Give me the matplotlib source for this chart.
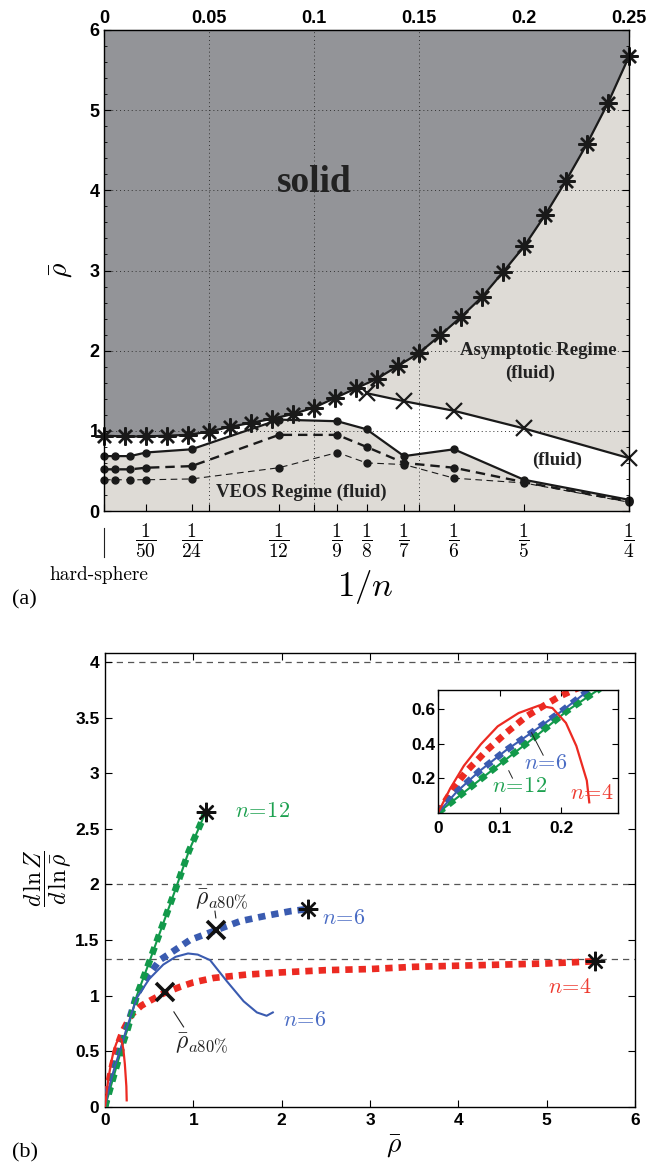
import numpy as np
import matplotlib
matplotlib.use('Agg')
import matplotlib.pyplot as plt
from matplotlib.ticker import MultipleLocator

plt.rcParams['mathtext.fontset'] = 'cm'
plt.rcParams['font.family'] = ['Liberation Sans', 'DejaVu Sans']

# ---------------- panel (a) data ----------------
inv_n_star = [0.00, 0.01, 0.02, 0.03, 0.04, 0.05, 0.06, 0.07, 0.08, 0.09, 0.10, 0.11, 0.12,
              0.13, 0.14, 0.15, 0.16, 0.17, 0.18, 0.19, 0.20, 0.21, 0.22, 0.23, 0.24, 0.25]
rho_star = [0.94, 0.93, 0.93, 0.94, 0.95, 0.99, 1.05, 1.10, 1.15, 1.21, 1.29, 1.41, 1.53,
            1.65, 1.81, 1.97, 2.19, 2.42, 2.67, 2.98, 3.30, 3.69, 4.12, 4.58, 5.09, 5.67]
inv_n_cross = [1/8, 1/7, 1/6, 1/5, 1/4]
rho_cross = [1.47, 1.37, 1.25, 1.03, 0.66]
inv_n_dots = [0.0, 1/200, 1/80, 1/50, 1/24, 1/12, 1/9, 1/8, 1/7, 1/6, 1/5, 1/4]
rho_dots_solid = [0.685, 0.685, 0.685, 0.73, 0.77, 1.14, 1.12, 1.02, 0.685, 0.77, 0.39, 0.14]
rho_dots_dash = [0.52, 0.52, 0.52, 0.54, 0.56, 0.95, 0.95, 0.80, 0.60, 0.54, 0.36, 0.12]
rho_dots_thin = [0.39, 0.39, 0.39, 0.39, 0.40, 0.54, 0.73, 0.60, 0.58, 0.41, 0.35, 0.11]
top_ticks = [0, 0.05, 0.1, 0.15, 0.2, 0.25]
top_labels = ['0', '0.05', '0.1', '0.15', '0.2', '0.25']
frac_ticks = [1/50, 1/24, 1/12, 1/9, 1/8, 1/7, 1/6, 1/5, 1/4]
frac_labels = [r'$\dfrac{1}{50}$', r'$\dfrac{1}{24}$', r'$\dfrac{1}{12}$', r'$\dfrac{1}{9}$',
               r'$\dfrac{1}{8}$', r'$\dfrac{1}{7}$', r'$\dfrac{1}{6}$', r'$\dfrac{1}{5}$',
               r'$\dfrac{1}{4}$']

# ---------------- panel (b) data ----------------
rho12 = [0, 0.05, 0.1, 0.16, 0.21, 0.26, 0.36, 0.5, 0.65, 0.8, 0.95, 1.14]
z12 = [0, 0.14, 0.28, 0.445, 0.59, 0.71, 1.0, 1.3, 1.63, 1.96, 2.3, 2.65]

rho6 = [0, 0.03, 0.067, 0.11, 0.152, 0.2, 0.242, 0.36, 0.47, 0.62, 0.81, 0.96, 1.26, 1.53, 1.83,
        2.1, 2.3]
z6 = [0, 0.12, 0.24, 0.36, 0.463, 0.585, 0.70, 1.01, 1.16, 1.32, 1.42, 1.50, 1.59, 1.67, 1.72,
      1.76, 1.78]
rho6_v = [0, 0.03, 0.067, 0.11, 0.152, 0.2, 0.242, 0.36, 0.5, 0.66, 0.8, 0.94, 1.05, 1.19, 1.38,
          1.57, 1.72, 1.83, 1.90]
z6_v = [0, 0.12, 0.24, 0.36, 0.463, 0.585, 0.70, 0.98, 1.15, 1.28, 1.35, 1.38, 1.37, 1.32, 1.13,
        0.95, 0.85, 0.82, 0.85]

rho4 = [0, 0.011, 0.028, 0.047, 0.081, 0.111, 0.144, 0.17, 0.197, 0.22, 0.3, 0.41, 0.52, 0.66,
        0.85, 1.0, 1.23, 1.6, 2.0, 2.5, 3.0, 3.5, 4.0, 4.5, 5.0, 5.55]
z4 = [0, 0.063, 0.158, 0.243, 0.367, 0.463, 0.558, 0.615, 0.672, 0.71, 0.83, 0.91, 0.96, 1.02,
      1.08, 1.12, 1.16, 1.19, 1.21, 1.23, 1.24, 1.26, 1.27, 1.28, 1.29, 1.31]
rho4_v = [0, 0.0195, 0.042, 0.0695, 0.097, 0.131, 0.164, 0.186, 0.208, 0.225, 0.242, 0.246]
z4_v = [0, 0.139, 0.272, 0.396, 0.50, 0.577, 0.62, 0.606, 0.52, 0.386, 0.186, 0.06]

rho_a80 = [0.68, 1.26]
z_a80 = [1.03, 1.59]
asymptotes = [4.0, 2.0, 4/3]
b_yticks = [0, 0.5, 1, 1.5, 2, 2.5, 3, 3.5, 4]
b_ylabels = ['0', '0.5', '1', '1.5', '2', '2.5', '3', '3.5', '4']

RED = '#ec2a22'
BLUE = '#3a5bb0'
GREEN = '#12994a'
RED_T = '#ee3b30'
BLUE_T = '#4a6cc4'
GREEN_T = '#1da150'
DARK = '#939498'
LIGHT = '#dedbd6'

fig = plt.figure(figsize=(6.5, 11.67), dpi=100)

# ================= panel (a) =================
ax = fig.add_axes([0.160, 0.5621, 0.8077, 0.4122])
ax.set_xlim(0, 0.25)
ax.set_ylim(0, 6)
ax.set_facecolor(LIGHT)

ax.fill_between(inv_n_star, rho_star, 6, color=DARK, lw=0, zorder=1)
xf = np.linspace(0, 0.25, 2001)
top = np.interp(xf, inv_n_star, rho_star)
xline = np.interp(xf, inv_n_cross, rho_cross)
top = np.where(xf >= inv_n_cross[0], np.minimum(top, xline), top)
bot = np.interp(xf, inv_n_dots, rho_dots_solid)
ax.fill_between(xf, bot, top, where=top > bot, color='white', lw=0, zorder=1.2)

ax.plot(inv_n_star, rho_star, color='#1a1a1a', lw=1.6, marker=(8, 2, 0), ms=13, mew=1.7, zorder=4,
        clip_on=False)
ax.plot(inv_n_cross, rho_cross, color='#1a1a1a', lw=1.6, marker='x', ms=11, mew=1.6, zorder=4,
        clip_on=False)
ax.plot(inv_n_dots, rho_dots_solid, color='#1a1a1a', lw=1.6, marker='o', ms=5, zorder=4, clip_on=False)
ax.plot(inv_n_dots, rho_dots_dash, color='#1a1a1a', lw=1.7, dashes=(4, 2.5), marker='o', ms=5,
        zorder=4, clip_on=False)
ax.plot(inv_n_dots, rho_dots_thin, color='#1a1a1a', lw=0.8, dashes=(6, 4), marker='o', ms=5,
        zorder=4, clip_on=False)

ax.set_axisbelow(False)
ax.set_yticks(range(0, 7))
ax.set_yticklabels([str(v) for v in range(0, 7)], fontweight='bold', fontsize=13)
ax.yaxis.set_minor_locator(MultipleLocator(0.2))
ax.set_xticks([0] + frac_ticks)
ax.set_xticklabels([''] + frac_labels, fontsize=14)
ax.set_xticks([0.05, 0.1, 0.15, 0.2], minor=True)
ax.tick_params(axis='x', which='both', direction='in', length=5, width=0.8, pad=8,
               top=False, bottom=True)
ax.tick_params(axis='y', which='major', direction='in', length=5, width=0.8, left=True,
               right=True, pad=3)
ax.tick_params(axis='y', which='minor', direction='in', length=2.5, width=0.6, left=True,
               right=True)
ax.grid(True, which='major', axis='y', ls=(0, (1, 3)), color='#333333', lw=0.7, zorder=2.5)
ax.grid(True, which='minor', axis='x', ls=(0, (1, 3)), color='#333333', lw=0.7, zorder=2.5)
for s in ax.spines.values():
    s.set_linewidth(1.0)
    s.set_zorder(5)

sec = ax.secondary_xaxis('top')
sec.set_xticks(top_ticks)
sec.set_xticklabels(top_labels, fontweight='bold', fontsize=13)
sec.tick_params(direction='in', length=5, width=0.8, pad=2)

ax.plot([0, 0], [-0.035, -0.095], transform=ax.get_xaxis_transform(), clip_on=False,
        color='#222222', lw=0.8)

tf = dict(family='Liberation Serif', fontweight='bold', color='#222222')
ax.text(0.100, 4.1, 'solid', fontsize=27, ha='center', va='center', zorder=6, **tf)
ax.text(0.207, 2.0, 'Asymptotic Regime', fontsize=13.5, ha='center', va='center', zorder=6, **tf)
ax.text(0.203, 1.72, '(fluid)', fontsize=13.5, ha='center', va='center', zorder=6, **tf)
ax.text(0.216, 0.635, '(fluid)', fontsize=13.5, ha='center', va='center', zorder=6, **tf)
ax.text(0.094, 0.235, 'VEOS Regime (fluid)', fontsize=13.5, ha='center', va='center', zorder=6, **tf)

fig.text(0.096, 0.769, r'$\bar{\rho}$', fontsize=20, rotation=90, ha='center', va='center')
fig.text(0.5615, 0.497, r'$1/n$', fontsize=25, ha='center', va='center')
fig.text(0.152, 0.507, 'hard-sphere', family='cmr10', fontsize=14, ha='center', va='center')
fig.text(0.037, 0.486, '(a)', family='Liberation Serif', fontsize=16, ha='center', va='center')

# ================= panel (b) =================
bx = fig.add_axes([0.1615, 0.0514, 0.8154, 0.389])
bx.set_xlim(0, 6)
bx.set_ylim(0, 4.08)
for h in asymptotes:
    bx.axhline(h, color='#555555', lw=0.9, dashes=(5, 4), zorder=1)

thick = dict(lw=4.8, dashes=(1.1, 0.9), dash_capstyle='butt', solid_capstyle='butt')


def draw_curves(a, zt=3):
    a.plot(rho4, z4, color=RED, zorder=zt, **thick)
    a.plot(rho6, z6, color=BLUE, zorder=zt, **thick)
    a.plot(rho12, z12, color=GREEN, zorder=zt, **thick)
    a.plot(rho12, z12, color=GREEN, lw=1.5, zorder=zt + 1)
    a.plot(rho6_v, z6_v, color=BLUE, lw=1.5, zorder=zt + 1)
    a.plot(rho4_v, z4_v, color=RED, lw=1.6, zorder=zt + 1)


draw_curves(bx)
star_kw = dict(marker=(8, 2, 0), ms=14, mew=1.7, color='#111111', ls='none', zorder=6)
bx.plot(rho12[-1], z12[-1], **star_kw)
bx.plot(rho6[-1], z6[-1], **star_kw)
bx.plot(rho4[-1], z4[-1], **star_kw)
bx.plot(rho_a80, z_a80, marker='x', ms=13, mew=2.6, color='#111111', ls='none', zorder=6)

bx.text(1.78, 2.66, r'$n\!=\!12$', color=GREEN_T, fontsize=16, ha='center', va='center')
bx.text(2.71, 1.69, r'$n\!=\!6$', color=BLUE_T, fontsize=16, ha='center', va='center')
bx.text(2.26, 0.78, r'$n\!=\!6$', color=BLUE_T, fontsize=16, ha='center', va='center')
bx.text(5.27, 1.07, r'$n\!=\!4$', color=RED_T, fontsize=16, ha='center', va='center')
bx.text(1.32, 1.86, r'$\bar{\rho}_{a80\%}$', fontsize=17, ha='center', va='center', color='#222222')
bx.plot([1.245, 1.255], [1.76, 1.70], color='#222222', lw=0.8)
bx.text(1.09, 0.57, r'$\bar{\rho}_{a80\%}$', fontsize=17, ha='center', va='center', color='#222222')
bx.plot([0.78, 0.89], [0.855, 0.72], color='#222222', lw=0.8)

bx.set_xticks(range(0, 7))
bx.set_xticklabels([str(v) for v in range(0, 7)], fontweight='bold', fontsize=12.5)
bx.set_yticks(b_yticks)
bx.set_yticklabels(b_ylabels, fontweight='bold', fontsize=12.5)
bx.tick_params(direction='in', length=5, width=0.8, top=True, right=True, pad=4)
for s in bx.spines.values():
    s.set_linewidth(1.0)

fig.text(0.074, 0.248, r'$\dfrac{d\,\ln Z}{d\,\ln\bar{\rho}}$', fontsize=17, rotation=90,
         ha='center', va='center')
fig.text(0.606, 0.017, r'$\bar{\rho}$', fontsize=20, ha='center', va='center')
fig.text(0.038, 0.012, '(b)', family='Liberation Serif', fontsize=16, ha='center', va='center')

# ================= inset =================
ix = fig.add_axes([0.674, 0.3036, 0.277, 0.1051])
ix.set_xlim(0, 0.293)
ix.set_ylim(0, 0.71)
draw_curves(ix)
ix.set_xticks([0, 0.1, 0.2])
ix.set_xticklabels(['0', '0.1', '0.2'], fontweight='bold', fontsize=12.5)
ix.set_yticks([0.2, 0.4, 0.6])
ix.set_yticklabels(['0.2', '0.4', '0.6'], fontweight='bold', fontsize=12.5)
ix.tick_params(axis='x', direction='in', length=4, width=0.8, top=True, pad=6)
ix.tick_params(axis='y', direction='in', length=4, width=0.8, right=True, pad=2)
for s in ix.spines.values():
    s.set_linewidth(1.0)
    s.set_zorder(8)
ix.text(0.175, 0.282, r'$n\!=\!6$', color=BLUE_T, fontsize=16, ha='center', va='center', zorder=9)
ix.plot([0.171, 0.152], [0.333, 0.463], color='#222222', lw=0.7, zorder=9)
ix.text(0.133, 0.149, r'$n\!=\!12$', color=GREEN_T, fontsize=16, ha='center', va='center', zorder=9)
ix.plot([0.115, 0.121], [0.243, 0.2], color='#222222', lw=0.7, zorder=9)
ix.text(0.25, 0.11, r'$n\!=\!4$', color=RED_T, fontsize=16, ha='center', va='center', zorder=9)

fig.savefig('out.png', dpi=100)
